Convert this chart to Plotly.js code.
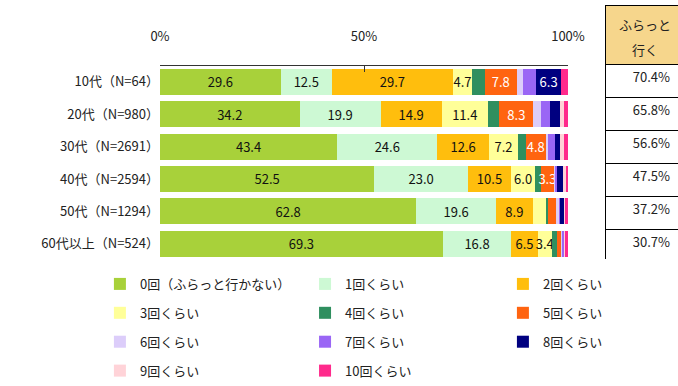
<!DOCTYPE html>
<html>
<head>
<meta charset="utf-8">
<script src="https://cdn.plot.ly/plotly-3.0.1.min.js"></script>
<style>
  html, body { margin: 0; padding: 0; background: #fff; }
  #chart { width: 678px; height: 386px; }
</style>
</head>
<body>
<div id="chart"></div>
<script>
// Age groups (top to bottom)
const categories = ['10代（N=64）', '20代（N=980）', '30代（N=2691）', '40代（N=2594）', '50代（N=1294）', '60代以上（N=524）'];

// Share of respondents by visit count (%)
const seriesNames = ['0回（ふらっと行かない）', '1回くらい', '2回くらい', '3回くらい', '4回くらい', '5回くらい',
                     '6回くらい', '7回くらい', '8回くらい', '9回くらい', '10回くらい'];
const visits0  = [29.6, 34.2, 43.4, 52.5, 62.8, 69.3];
const visits1  = [12.5, 19.9, 24.6, 23.0, 19.6, 16.8];
const visits2  = [29.7, 14.9, 12.6, 10.5, 8.9, 6.5];
const visits3  = [4.7, 11.4, 7.2, 6.0, 3.2, 3.4];
const visits4  = [3.1, 2.8, 1.9, 1.3, 0.7, 1.2];
const visits5  = [7.8, 8.3, 4.8, 3.3, 1.9, 1.1];
const visits6  = [1.6, 1.9, 0.6, 0.3, 0.6, 0.3];
const visits7  = [3.1, 2.1, 1.6, 0.5, 0.4, 0.4];
const visits8  = [6.3, 2.6, 1.4, 1.3, 0.9, 0.0];
const visits9  = [0.0, 0.9, 1.0, 0.7, 0.3, 0.2];
const visits10 = [1.6, 1.0, 0.9, 0.6, 0.7, 0.8];

// Side table: share who drop in at least once
const tableHeaderLines = ['ふらっと', '行く'];
const goRates = [70.4, 65.8, 56.6, 47.5, 37.2, 30.7];

const xTickVals = [0, 50, 100];
const xTickText = ['0%', '50%', '100%'];

const allSeries = [visits0, visits1, visits2, visits3, visits4, visits5, visits6, visits7, visits8, visits9, visits10];
const colors = ['#a8d13a', '#cdf9d4', '#ffbe0d', '#ffff99', '#2f8f5f', '#ff6410',
                '#dccdfa', '#9a66f5', '#000080', '#ffd3d8', '#ff2a8c'];
const textColors = ['#111', '#111', '#111', '#111', '#111', '#fff', '#111', '#111', '#fff', '#111', '#111'];
// legend columns: entries read across rows of three
const legendIds = ['legend', 'legend2', 'legend3'];

const FONT = '"Noto Sans CJK JP", "Noto Sans", sans-serif';
const LABEL_MIN = 3.3;

const traces = allSeries.map((vals, i) => ({
  type: 'bar',
  orientation: 'h',
  name: seriesNames[i],
  y: categories,
  x: vals,
  marker: { color: colors[i], line: { width: 0 } },
  text: vals.map(v => (v >= LABEL_MIN ? v.toFixed(1) : '')),
  textposition: 'inside',
  insidetextanchor: 'middle',
  textangle: 0,
  constraintext: 'none',
  textfont: { family: FONT, size: 13, color: textColors[i] },
  hoverinfo: 'name+x',
  legend: legendIds[i % 3],
  legendgroup: 'g' + i
}));

traces.push({
  type: 'table',
  domain: { x: [445 / 518, 1], y: [0, 0.996] },
  header: {
    values: [''],
    height: 59,
    fill: { color: '#f6d68c' },
    line: { color: '#000', width: 1 }
  },
  cells: {
    values: [goRates.map(v => v.toFixed(1) + '%')],
    align: 'right',
    height: 33,
    fill: { color: '#fff' },
    line: { color: '#000', width: 1 },
    font: { family: FONT, size: 13, color: '#222' }
  }
});

// header text of the side table, one line each
const headerAnnotations = tableHeaderLines.map((t, k) => ({
  xref: 'paper', yref: 'paper',
  x: 0.936, y: k === 0 ? 0.9186 : 0.8217,
  xanchor: 'center', yanchor: 'middle',
  text: t, showarrow: false,
  font: { family: FONT, size: 13, color: '#222' }
}));

const legendBase = {
  orientation: 'v',
  y: -0.035,
  xanchor: 'left',
  yanchor: 'top',
  tracegroupgap: 9,
  bgcolor: 'rgba(0,0,0,0)',
  traceorder: 'grouped',
  font: { family: FONT, size: 13, color: '#222' }
};

const layout = {
  width: 678,
  height: 386,
  margin: { l: 160, r: 0, t: 4, b: 124 },
  paper_bgcolor: '#fff',
  plot_bgcolor: '#fff',
  barmode: 'stack',
  bargap: 0.2,
  font: { family: FONT, size: 13, color: '#222' },
  uniformtext: { minsize: 13, mode: 'show' },
  annotations: headerAnnotations,
  xaxis: {
    domain: [0, 408 / 518],
    side: 'top',
    range: [0, 100],
    tickvals: xTickVals,
    ticktext: xTickText,
    ticks: 'inside',
    ticklen: 6,
    tickcolor: '#333',
    showline: true,
    linecolor: '#333',
    linewidth: 1,
    showgrid: false,
    zeroline: false,
    ticklabelstandoff: 18,
    tickfont: { family: FONT, size: 13, color: '#222' },
    fixedrange: true
  },
  yaxis: {
    domain: [0, 0.7597],
    type: 'category',
    autorange: 'reversed',
    showline: false,
    showgrid: false,
    zeroline: false,
    ticks: '',
    ticklabelstandoff: 0,
    tickfont: { family: FONT, size: 13, color: '#222' },
    fixedrange: true
  },
  legend:  Object.assign({}, legendBase, { x: -0.116 }),
  legend2: Object.assign({}, legendBase, { x: 0.28 }),
  legend3: Object.assign({}, legendBase, { x: 0.662 })
};

Plotly.newPlot('chart', traces, layout, { displayModeBar: false, staticPlot: true });
</script>
</body>
</html>
